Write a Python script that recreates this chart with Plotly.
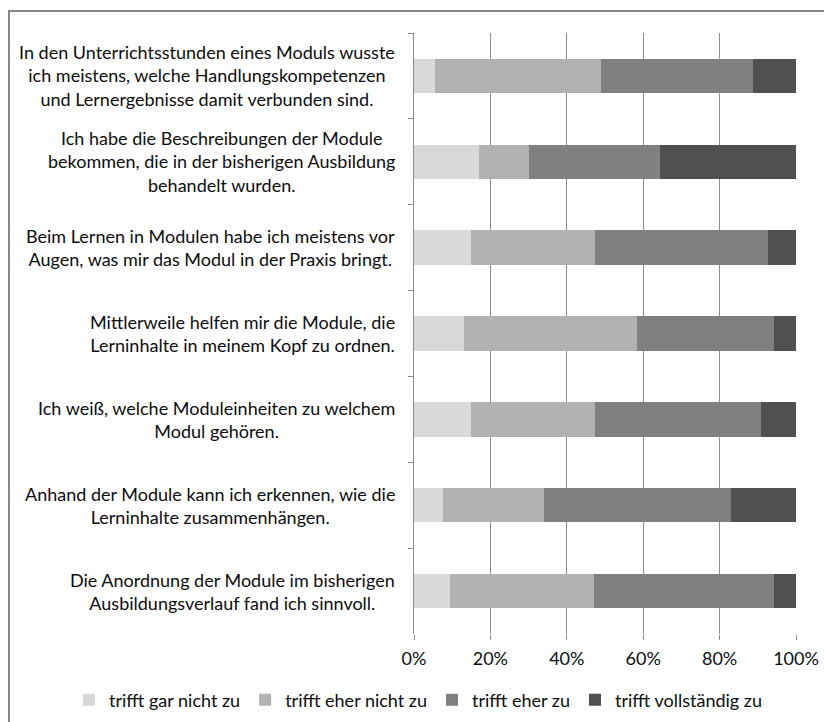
import plotly.graph_objects as go

categories = [
    "In den Unterrichtsstunden eines Moduls wusste<br>ich meistens, welche Handlungskompetenzen<br>und Lernergebnisse damit verbunden sind.",
    "Ich habe die Beschreibungen der Module<br>bekommen, die in der bisherigen Ausbildung<br>behandelt wurden.",
    "Beim Lernen in Modulen habe ich meistens vor<br>Augen, was mir das Modul in der Praxis bringt.",
    "Mittlerweile helfen mir die Module, die<br>Lerninhalte in meinem Kopf zu ordnen.",
    "Ich weiß, welche Moduleinheiten zu welchem<br>Modul gehören.",
    "Anhand der Module kann ich erkennen, wie die<br>Lerninhalte zusammenhängen.",
    "Die Anordnung der Module im bisherigen<br>Ausbildungsverlauf fand ich sinnvoll.",
]

series_names = ["trifft gar nicht zu", "trifft eher nicht zu", "trifft eher zu", "trifft vollständig zu"]
gar_nicht = [5.6, 16.9, 15.0, 13.1, 15.0, 7.5, 9.4]
eher_nicht = [43.4, 13.1, 32.3, 45.3, 32.3, 26.5, 37.7]
eher = [39.7, 34.3, 45.3, 35.9, 43.5, 49.0, 47.2]
vollstaendig = [11.3, 35.7, 7.4, 5.7, 9.2, 17.0, 5.7]
colors = ["#d9d9d9", "#b2b2b2", "#808080", "#505050"]
x_ticks = [0, 20, 40, 60, 80, 100]
x_tick_labels = ["0%", "20%", "40%", "60%", "80%", "100%"]

FONT = "Lato"
FS = 18
fig = go.Figure()
for name, vals, col in zip(series_names, [gar_nicht, eher_nicht, eher, vollstaendig], colors):
    fig.add_trace(go.Bar(
        y=categories, x=vals, name=name, orientation="h",
        marker=dict(color=col, line=dict(width=0)),
    ))

# category labels: block right-aligned, lines centered
PW = 382.0
for c in categories:
    fig.add_annotation(
        x=(397 - 414) / PW, xref="paper", y=c, yref="y",
        text=c, showarrow=False, xanchor="right", yanchor="middle",
        align="center", font=dict(family=FONT, size=FS, color="#0d0d0d"),
    )

# outer chart border
PH = 601.0
fig.add_shape(
    type="rect", xref="paper", yref="paper",
    x0=(9 - 414) / PW, x1=(1100 - 414) / PW,
    y0=(634 - 11) / PH, y1=(634 - 900) / PH,
    line=dict(color="#868686", width=2), fillcolor="rgba(0,0,0,0)", layer="below",
)

fig.update_layout(
    barmode="stack",
    bargap=0.6,
    width=824, height=722,
    margin=dict(l=414, r=28, t=33, b=88, autoexpand=False),
    paper_bgcolor="white", plot_bgcolor="white",
    font=dict(family=FONT, size=FS, color="#0d0d0d"),
    legend=dict(
        orientation="h", x=(69 - 414) / PW, xanchor="left",
        y=(634 - 700) / PH, yanchor="middle",
        font=dict(family=FONT, size=FS, color="#0d0d0d"),
        traceorder="normal", itemwidth=30,
    ),
    xaxis=dict(
        range=[0, 100], tickvals=x_ticks, ticktext=x_tick_labels,
        showgrid=True, gridcolor="#8c8c8c", gridwidth=1,
        zeroline=False, showline=False,
        ticks="outside", ticklen=5, tickcolor="#8c8c8c",
        ticklabelstandoff=3,
        tickfont=dict(family=FONT, size=FS, color="#0d0d0d"),
        fixedrange=True,
    ),
    yaxis=dict(
        categoryorder="array", categoryarray=categories, autorange="reversed",
        showticklabels=False, showline=True, linecolor="#8c8c8c", linewidth=1,
        ticks="outside", ticklen=5, tickcolor="#8c8c8c", tickson="boundaries",
        showgrid=False, zeroline=False, fixedrange=True,
    ),
)

fig.write_html("out.html")
